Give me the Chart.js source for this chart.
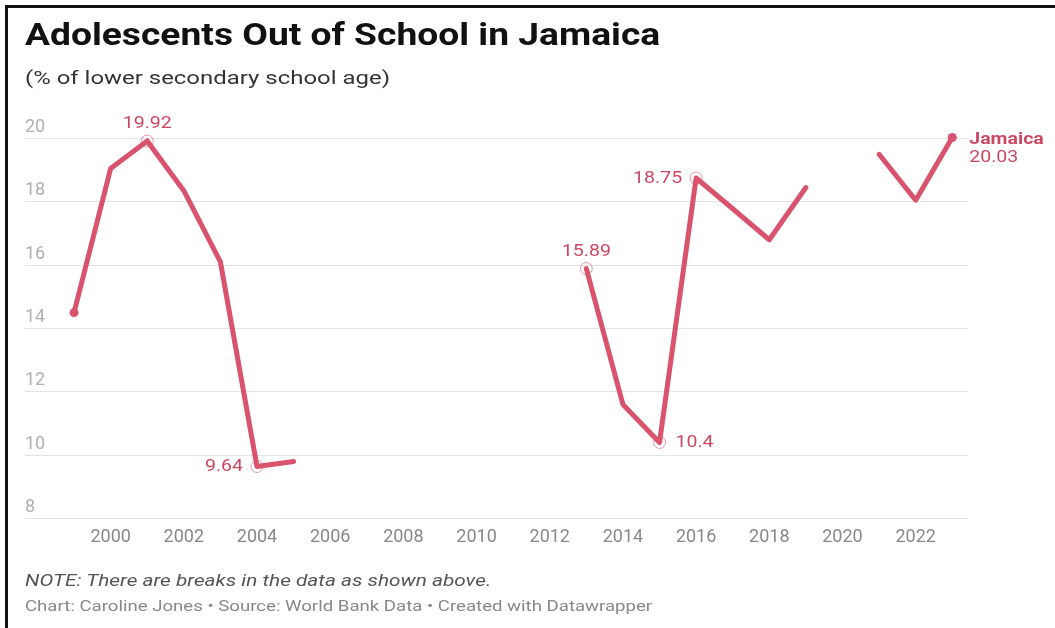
<!DOCTYPE html>
<html>
<head>
<meta charset="utf-8">
<script src="https://cdn.jsdelivr.net/npm/chart.js@4.4.1/dist/chart.umd.min.js"></script>
<style>
    html, body { margin: 0; padding: 0; background: #fff; }
    body { width: 1055px; height: 628px; position: relative; overflow: hidden; font-family: Roboto, "Noto Sans", sans-serif; }
    #frame { position: absolute; left: 5px; top: 5px; right: -5px; bottom: -5px; border-left: 3px solid #111; border-top: 3px solid #111; }
    .txt { position: absolute; left: 25px; white-space: nowrap; transform-origin: 0 50%; }
    #title { top: 16px; font-size: 31px; font-weight: 700; color: #111; transform: scaleX(1.2); }
    #subtitle { top: 66px; font-size: 19px; color: #333; transform: scaleX(1.26); }
    #note { top: 571px; font-size: 16px; font-style: italic; color: #555; transform: scaleX(1.3); }
    #credit { top: 597px; font-size: 15px; color: #888; transform: scaleX(1.24); }
    #chartBox { position: absolute; left: 0; top: 0; width: 1055px; height: 628px; }
</style>
</head>
<body>
<div id="frame"></div>
<div id="chartBox"><canvas id="lineChart"></canvas></div>
<div class="txt" id="title">Adolescents Out of School in Jamaica</div>
<div class="txt" id="subtitle">(% of lower secondary school age)</div>
<div class="txt" id="note">NOTE: There are breaks in the data as shown above.</div>
<div class="txt" id="credit">Chart: Caroline Jones • Source: World Bank Data • Created with Datawrapper</div>

<script>
const years = [1999, 2000, 2001, 2002, 2003, 2004, 2005, 2006, 2007, 2008, 2009, 2010, 2011,
    2012, 2013, 2014, 2015, 2016, 2017, 2018, 2019, 2020, 2021, 2022, 2023];
const outOfSchool = [14.5, 19.05, 19.92, 18.35, 16.1, 9.64, 9.8, null, null, null, null, null, null,
    null, 15.89, 11.6, 10.4, 18.75, 17.78, 16.8, 18.45, null, 19.5, 18.05, 20.03];
const xTicks = [2000, 2002, 2004, 2006, 2008, 2010, 2012, 2014, 2016, 2018, 2020, 2022];
const yTicks = [8, 10, 12, 14, 16, 18, 20];

// labelled points: year, text, placement
const callouts = [
    { year: 2001, text: '19.92', pos: 'above' },
    { year: 2004, text: '9.64', pos: 'left' },
    { year: 2013, text: '15.89', pos: 'above' },
    { year: 2015, text: '10.4', pos: 'right' },
    { year: 2016, text: '18.75', pos: 'left' }
];

const lineColor = '#d9536d';
const labelColor = '#cc4862';
const stretch = 1.22;

const points = years.map((y, i) => ({ x: y, y: outOfSchool[i] }));
const lastIndex = points.length - 1;

// text drawn a little wider, like the reference
function wideText(ctx, text, x, y, align) {
    const w = ctx.measureText(text).width * stretch;
    let left = x;
    if (align === 'center') left = x - w / 2;
    if (align === 'right') left = x - w;
    ctx.save();
    ctx.translate(left, y);
    ctx.scale(stretch, 1);
    ctx.textAlign = 'left';
    ctx.fillText(text, 0, 0);
    ctx.restore();
}

const calloutPlugin = {
    id: 'callouts',
    afterDatasetsDraw(chart) {
        const ctx = chart.ctx;
        const xs = chart.scales.x;
        const ys = chart.scales.y;
        ctx.save();
        ctx.font = '16px Roboto';
        ctx.fillStyle = labelColor;
        ctx.textBaseline = 'middle';
        callouts.forEach(c => {
            const v = outOfSchool[years.indexOf(c.year)];
            const px = xs.getPixelForValue(c.year);
            const py = ys.getPixelForValue(v);
            ctx.beginPath();
            ctx.arc(px, py, 6, 0, Math.PI * 2);
            ctx.strokeStyle = 'rgba(217, 83, 109, 0.6)';
            ctx.lineWidth = 1;
            ctx.stroke();
            if (c.pos === 'above') {
                wideText(ctx, c.text, px, py - 17, 'center');
            } else if (c.pos === 'left') {
                wideText(ctx, c.text, px - 14, py + 1, 'right');
            } else {
                wideText(ctx, c.text, px + 16, py + 1, 'left');
            }
        });
        // series label at the end of the line
        const ex = xs.getPixelForValue(years[lastIndex]);
        const ey = ys.getPixelForValue(outOfSchool[lastIndex]);
        ctx.font = 'bold 16px Roboto';
        wideText(ctx, 'Jamaica', ex + 17, ey + 2, 'left');
        ctx.font = '16px Roboto';
        wideText(ctx, outOfSchool[lastIndex].toFixed(2), ex + 17, ey + 20, 'left');
        ctx.restore();
    }
};

const config = {
    type: 'line',
    data: {
        datasets: [{
            label: 'Jamaica',
            data: points,
            borderColor: lineColor,
            backgroundColor: lineColor,
            borderWidth: 5,
            borderJoinStyle: 'round',
            borderCapStyle: 'round',
            spanGaps: false,
            tension: 0,
            clip: false,
            pointRadius: (ctx) => (ctx.dataIndex === 0 || ctx.dataIndex === lastIndex) ? 4.5 : 0,
            pointBorderWidth: 0,
            pointHoverRadius: 0
        }]
    },
    options: {
        responsive: false,
        animation: false,
        events: [],
        layout: {
            padding: { left: 25, right: 87, top: 120, bottom: 72 }
        },
        plugins: {
            legend: { display: false },
            tooltip: { enabled: false }
        },
        scales: {
            x: {
                type: 'linear',
                min: 1997.66,
                max: 2023.43,
                afterBuildTicks: (axis) => { axis.ticks = xTicks.map(v => ({ value: v })); },
                grid: { display: false, drawTicks: false },
                border: { display: false },
                ticks: {
                    color: '#888',
                    font: { family: 'Roboto', size: 18 },
                    padding: 8,
                    maxRotation: 0,
                    autoSkip: false,
                    callback: (v) => String(v)
                }
            },
            y: {
                min: 8,
                max: 20.583,
                afterBuildTicks: (axis) => { axis.ticks = yTicks.map(v => ({ value: v })); },
                grid: { color: '#e3e3e3', lineWidth: 1, drawTicks: false },
                border: { display: false },
                ticks: {
                    mirror: true,
                    padding: 0,
                    labelOffset: -11,
                    color: '#b0b0b0',
                    font: { family: 'Roboto', size: 18 },
                    callback: (v) => String(v)
                }
            }
        }
    },
    plugins: [calloutPlugin]
};

window.onload = function () {
    const canvas = document.getElementById('lineChart');
    canvas.width = 1055;
    canvas.height = 628;
    new Chart(canvas.getContext('2d'), config);
};
</script>
</body>
</html>
